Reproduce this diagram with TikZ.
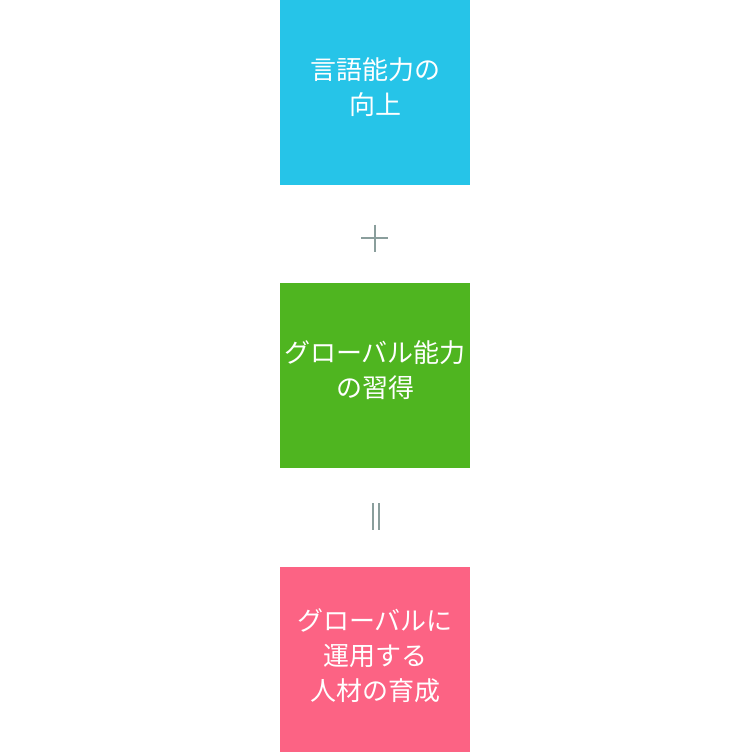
\documentclass[tikz,border=0pt]{standalone}
\usepackage{fontspec}
\setmainfont{Noto Sans CJK JP}
\usetikzlibrary{positioning}
\definecolor{skyblue}{HTML}{26C4E8}
\definecolor{leafgreen}{HTML}{4FB520}
\definecolor{rosepink}{HTML}{FC6384}
\definecolor{signgray}{HTML}{8A9E9C}

\begin{document}
\begin{tikzpicture}[
    x=1pt, y=-1pt,
    goal/.style={rectangle, draw=none, minimum width=190pt, minimum height=185pt, inner sep=0pt, align=center, text=white, text depth=12pt, font=\fontsize{26}{35}\selectfont},
    sign/.style={draw=signgray, line width=2pt}
]
    \useasboundingbox (0,0) rectangle (750,752);

    % Goals
    \node[goal, fill=skyblue] (lang) at (375,92.5) {言語能力の\\向上};
    \node[goal, fill=leafgreen] (global) at (375,375.5) {グローバル能力\\の習得};
    \node[goal, fill=rosepink, text depth=9pt] (talent) at (375,659.5) {グローバルに\\運用する\\人材の育成};

    % Signs
    \coordinate (plus) at (374.5,238);
    \coordinate (equal) at (375.75,516.5);
    \draw[sign] (plus) ++(-13.5,0) -- ++(27,0);
    \draw[sign] (plus) ++(0,-13.5) -- ++(0,27);
    \draw[sign] (equal) ++(-3.25,-13.5) -- ++(0,27);
    \draw[sign] (equal) ++(3.25,-13.5) -- ++(0,27);
\end{tikzpicture}
\end{document}
